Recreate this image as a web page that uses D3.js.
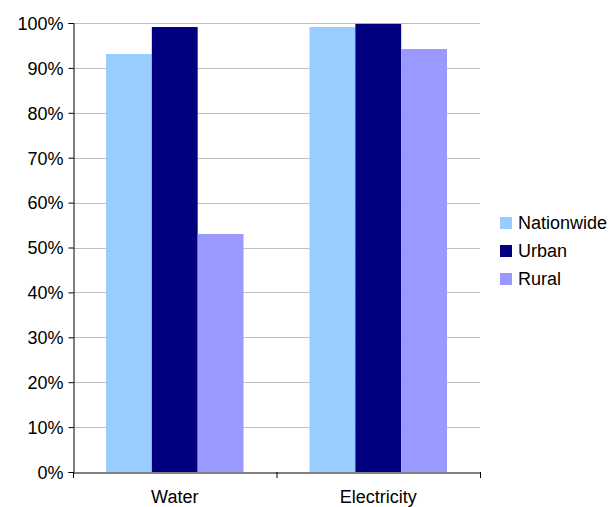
<!DOCTYPE html>
<html><head><meta charset="utf-8">
<script src="https://cdn.jsdelivr.net/npm/d3@7"></script>
<style>body{margin:0;background:#fff;}svg{display:block;}text{font-family:"Liberation Sans",Arial,sans-serif;fill:#000;}</style>
</head><body>
<svg id="c" width="610" height="507"></svg>
<script>
const categories = ["Water", "Electricity"];
const seriesNames = ["Nationwide", "Urban", "Rural"];
const nationwide = [93.1, 99.1];
const urban = [99.1, 99.8];
const rural = [53.0, 94.2];
const yTicks = [0,10,20,30,40,50,60,70,80,90,100];
const colors = ["#99CCFF", "#000080", "#9999FF"];

const values = [nationwide, urban, rural];
const svg = d3.select("#c");
const L = 73, R = 480, T = 23, B = 472;
const x = d3.scaleBand().domain(categories).range([L, R]).paddingInner(0).paddingOuter(0);
const y = d3.scaleLinear().domain([0,100]).range([B, T]);
const inner = d3.scaleBand().domain(seriesNames).range([0, x.bandwidth()]).paddingInner(0).paddingOuter(0.72);

// gridlines
svg.append("g").selectAll("line").data(yTicks.filter(d=>d>0)).join("line")
  .attr("x1", L).attr("x2", R).attr("y1", d=>Math.round(y(d))+0.5).attr("y2", d=>Math.round(y(d))+0.5)
  .attr("stroke", "#c0c0c0").attr("stroke-width", 1);

// bars
seriesNames.forEach((s, si) => {
  svg.append("g").selectAll("rect").data(categories).join("rect")
    .attr("x", c => x(c) + inner(s))
    .attr("width", inner.bandwidth())
    .attr("y", (c, i) => y(values[si][i]))
    .attr("height", (c, i) => B - y(values[si][i]))
    .attr("fill", colors[si]);
});

// y axis
const yAxis = d3.axisLeft(y).tickValues(yTicks).tickFormat(d => d + "%").tickSize(5).tickPadding(5);
const gy = svg.append("g").attr("transform", `translate(${L+0.5},0)`).call(yAxis);
gy.selectAll("text").style("font-size", "18px").attr("dy", "0.35em");
gy.selectAll("path,line").attr("stroke", "#000");

// x axis
const xAxis = d3.axisBottom(x).tickSize(0).tickPadding(0);
const gx = svg.append("g").attr("transform", `translate(0,${B+0.5})`).call(xAxis);
gx.select(".domain").attr("stroke", "#000");
gx.selectAll("text").style("font-size", "18px").attr("dy", null).attr("y", 30.5);
const bounds = [L, R].concat(categories.slice(1).map(c => x(c)));
svg.append("g").selectAll("line").data(bounds).join("line")
  .attr("x1", d=>d+0.5).attr("x2", d=>d+0.5).attr("y1", B).attr("y2", B+6).attr("stroke", "#000");

// legend
const lg = svg.append("g").attr("transform", "translate(500,217)");
seriesNames.forEach((s, i) => {
  const g = lg.append("g").attr("transform", `translate(0,${i*28})`);
  g.append("rect").attr("width", 12).attr("height", 12).attr("fill", colors[i]);
  g.append("text").attr("x", 18).attr("y", 6).attr("dy", "0.35em").style("font-size", "18px").text(s);
});
</script>
</body></html>
